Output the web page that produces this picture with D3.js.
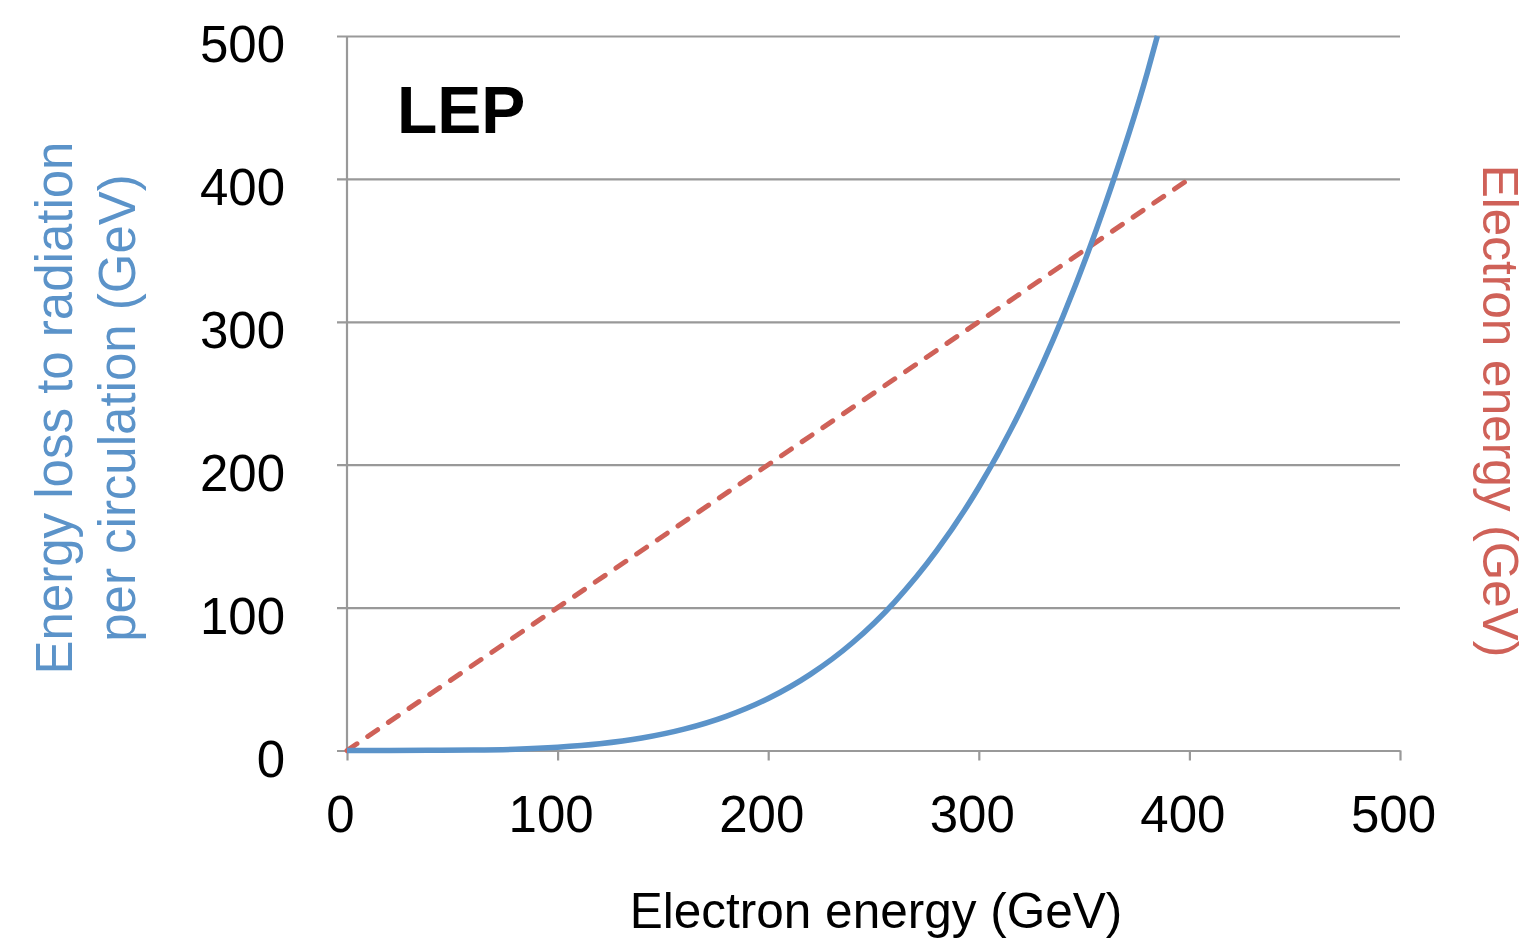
<!DOCTYPE html>
<html lang="en">
<head>
<meta charset="UTF-8" />
<title>LEP energy loss</title>
<script src="https://d3js.org/d3.v7.min.js"></script>
<style>
  body { margin: 0; background: #fff; }
  text { font-family: "Liberation Sans", Arial, Helvetica, sans-serif; }
</style>
</head>
<body>
<svg id="chart" width="1527" height="938"></svg>
<script>
// tick values for both axes
var xTicks = [0, 100, 200, 300, 400, 500];
var yTicks = [0, 100, 200, 300, 400, 500];

// blue curve: energy loss per circulation
var electronE = [0, 20, 40, 60, 80, 100, 120, 140, 160, 180, 200, 220, 240, 260, 280, 300, 320, 340, 360, 380, 384.8];
var lossE     = [0, 0, 0.1, 0.3, 0.9, 2.3, 4.7, 8.7, 14.9, 23.9, 36.4, 53.3, 75.4, 103.9, 139.8, 184.2, 238.5, 303.9, 382, 474.3, 500];

// red dashed line: electron energy itself
var refE = [0, 100, 200, 300, 400];
var refV = [0, 100, 200, 300, 400];

var blue = "#5b93c9";
var red = "#cf6158";
var grey = "#999999";

var margin = {top: 36, left: 347};
var width = 1053, height = 714.5;

var svg = d3.select("#chart");

var x = d3.scaleLinear().domain([0, 500]).range([margin.left, margin.left + width]);
var y = d3.scaleLinear().domain([0, 500]).range([margin.top + height, margin.top]);

// horizontal grid + y labels
var yAxis = svg.append("g")
  .attr("transform", "translate(" + (margin.left - 10) + ",0)")
  .call(d3.axisLeft(y).tickValues(yTicks).tickSize(-(width + 10)).tickPadding(52).tickFormat(d3.format("d")));
yAxis.select(".domain").remove();
yAxis.selectAll(".tick line").attr("stroke", grey).attr("stroke-width", 2.2);
yAxis.selectAll(".tick text")
  .attr("font-size", 51).attr("fill", "#000").attr("dy", "0.5em")
  .style("font-family", "'Liberation Sans', Arial, sans-serif");

// vertical axis line
svg.append("line")
  .attr("x1", x(0)).attr("x2", x(0))
  .attr("y1", y(500)).attr("y2", y(0))
  .attr("stroke", grey).attr("stroke-width", 2.2);

// x axis
var xAxis = svg.append("g")
  .attr("transform", "translate(0," + y(0) + ")")
  .call(d3.axisBottom(x).tickValues(xTicks).tickSize(10).tickSizeOuter(0).tickPadding(35).tickFormat(d3.format("d")));
xAxis.select(".domain").attr("stroke", grey).attr("stroke-width", 2.2);
xAxis.selectAll(".tick line").attr("stroke", grey).attr("stroke-width", 2.2);
xAxis.selectAll(".tick text")
  .attr("font-size", 51).attr("fill", "#000").attr("dx", -7)
  .style("font-family", "'Liberation Sans', Arial, sans-serif");

// red dashed reference
var refData = refE.map(function(d, i){ return [d, refV[i]]; });
svg.append("path")
  .datum(refData)
  .attr("fill", "none")
  .attr("stroke", red)
  .attr("stroke-width", 5)
  .attr("stroke-linecap", "round")
  .attr("stroke-dasharray", "12,13")
  .attr("d", d3.line().x(function(d){ return x(d[0]); }).y(function(d){ return y(d[1]); }));

// blue loss curve
var lossData = electronE.map(function(d, i){ return [d, lossE[i]]; });
svg.append("path")
  .datum(lossData)
  .attr("fill", "none")
  .attr("stroke", blue)
  .attr("stroke-width", 5.5)
  .attr("d", d3.line().curve(d3.curveMonotoneX).x(function(d){ return x(d[0]); }).y(function(d){ return y(d[1]); }));

// LEP label
svg.append("text")
  .attr("x", 397).attr("y", 133)
  .attr("font-size", 66).attr("font-weight", "bold")
  .text("LEP");

// x axis title
svg.append("text")
  .attr("x", 876).attr("y", 928)
  .attr("text-anchor", "middle")
  .attr("font-size", 49.5)
  .text("Electron energy (GeV)");

// left title, two lines
var leftTitle = svg.append("text")
  .attr("transform", "translate(72,408) rotate(-90)")
  .attr("text-anchor", "middle")
  .attr("font-size", 51)
  .attr("fill", blue);
leftTitle.append("tspan").attr("x", 0).attr("y", 0).text("Energy loss to radiation");
leftTitle.append("tspan").attr("x", 0).attr("y", 63).text("per circulation (GeV)");

// right title
svg.append("text")
  .attr("transform", "translate(1483,411) rotate(90)")
  .attr("text-anchor", "middle")
  .attr("font-size", 49.5)
  .attr("fill", red)
  .text("Electron energy (GeV)");
</script>
</body>
</html>
